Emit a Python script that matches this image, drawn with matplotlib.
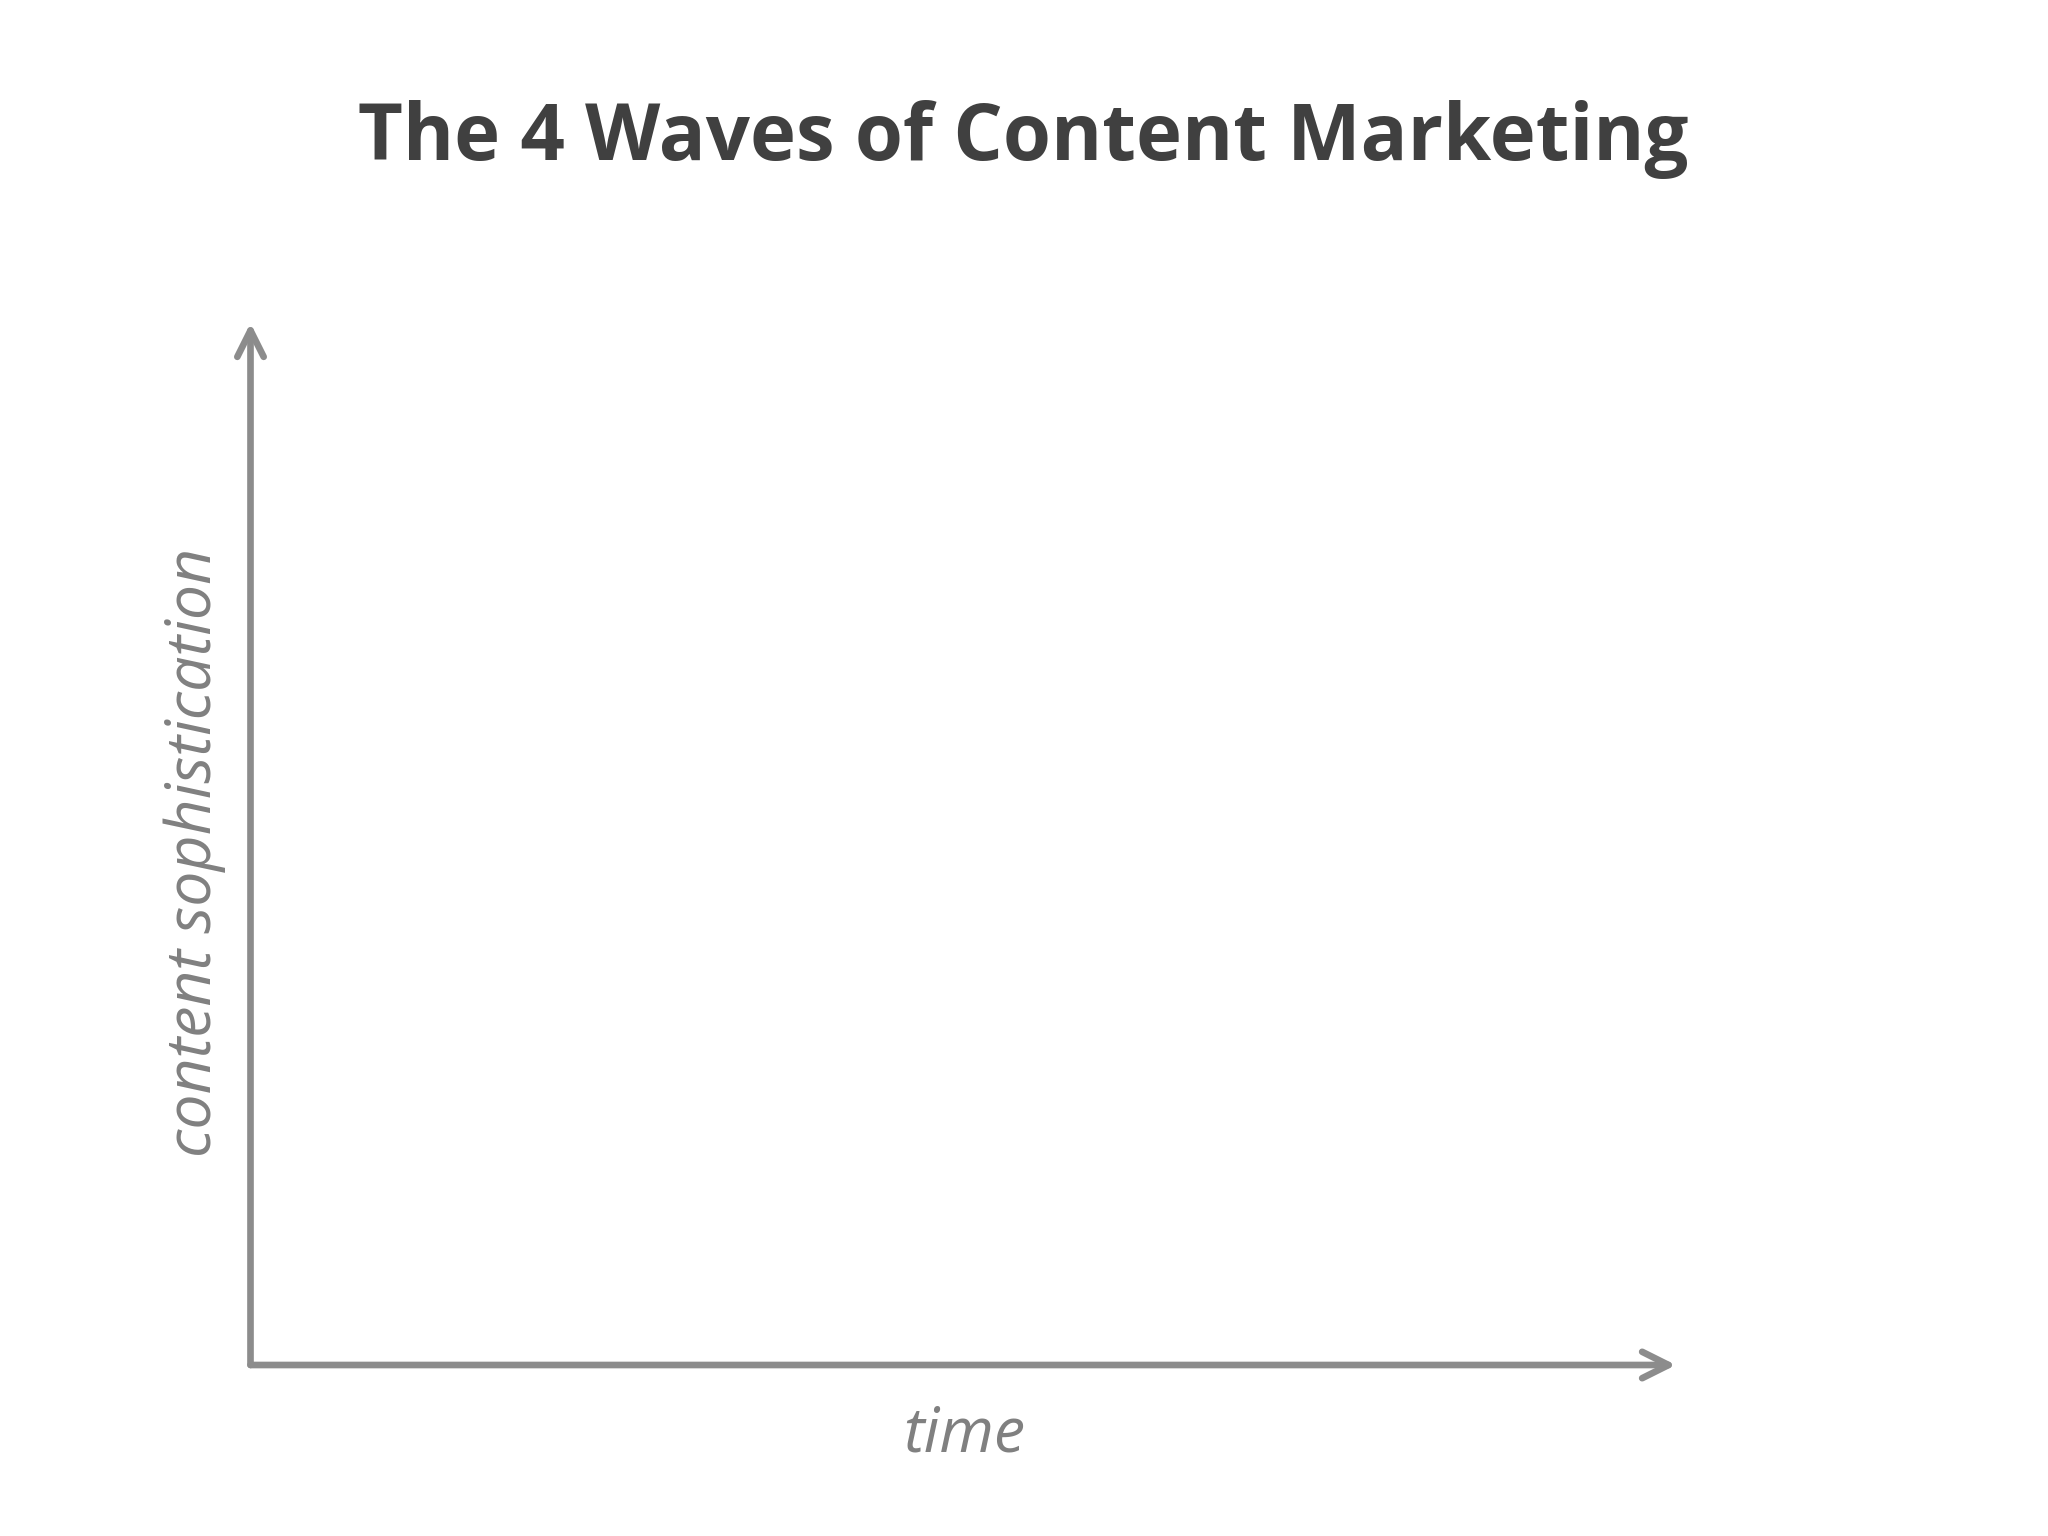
import matplotlib
matplotlib.use("Agg")
import matplotlib.pyplot as plt
from matplotlib.patches import FancyArrowPatch

# Chart text (no data series in this chart)
title = "The 4 Waves of Content Marketing"
x_label = "time"
y_label = "content sophistication"

axis_color = "#8c8c8c"
label_color = "#808080"
title_color = "#404040"

fig = plt.figure(figsize=(20.48, 15.36), dpi=100)
fig.patch.set_facecolor("white")

ax = fig.add_axes([250.5 / 2048, 1 - 1365 / 1536, (1676 - 250.5) / 2048, (1365 - 323) / 1536])
ax.set_xlim(0, 1)
ax.set_ylim(0, 1)
ax.axis("off")

arrow_kw = dict(
    arrowstyle="->,head_length=19,head_width=9.5",
    mutation_scale=1,
    color=axis_color,
    linewidth=4.8,
    capstyle="round",
    joinstyle="round",
    shrinkA=0,
    shrinkB=0,
    transform=ax.transAxes,
    clip_on=False,
)
ax.add_patch(FancyArrowPatch((0, 0), (1, 0), **arrow_kw))
ax.add_patch(FancyArrowPatch((0, 0), (0, 1), **arrow_kw))

fig.text(0.4995, 1 - 160 / 1536, title, ha="center", va="baseline",
         fontsize=56, fontweight="bold", family="Open Sans", color=title_color)

fig.text(964 / 2048, 1 - 1452 / 1536, x_label, ha="center", va="baseline",
         fontsize=45, style="italic", family="Open Sans", color=label_color)

fig.text(195 / 2048, 1 - 852 / 1536, y_label, ha="center", va="center",
         rotation=90, fontsize=45, style="italic", family="Open Sans", color=label_color)

fig.savefig("out.png", dpi=100, facecolor="white")
